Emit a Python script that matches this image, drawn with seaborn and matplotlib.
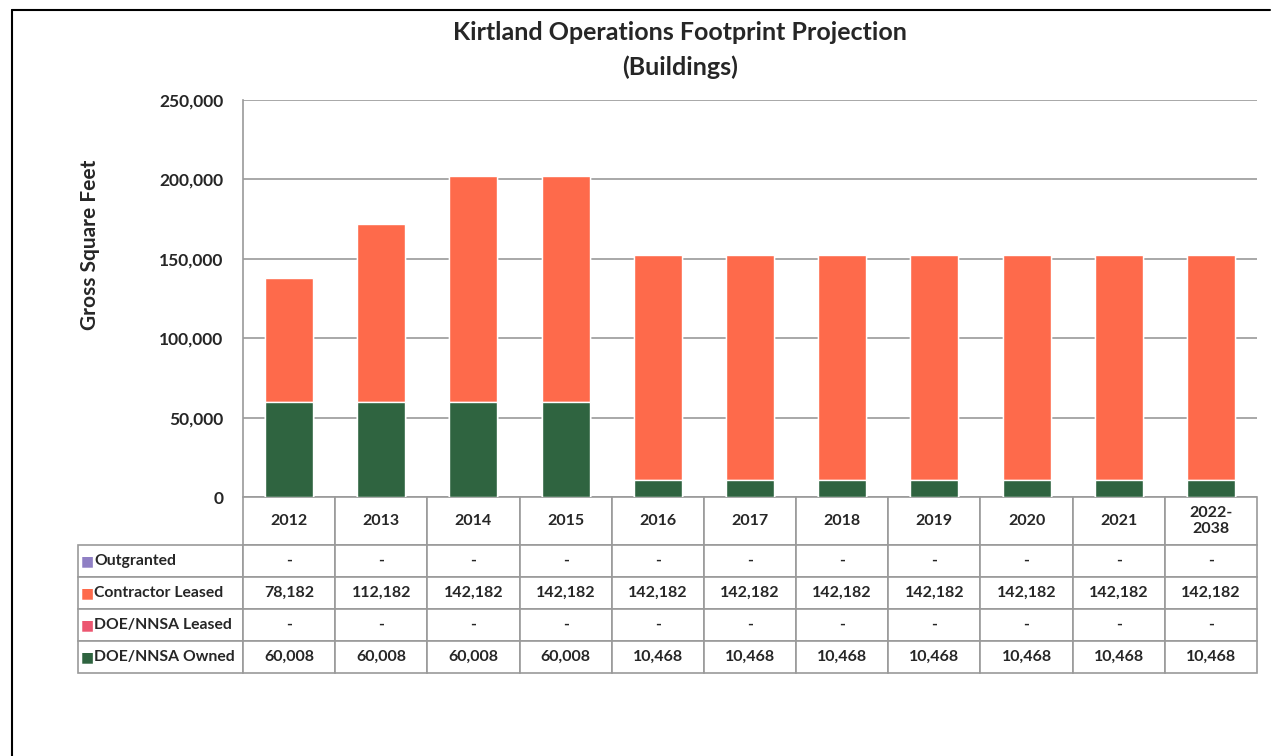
import matplotlib
matplotlib.use("Agg")
import matplotlib.pyplot as plt
import pandas as pd
import seaborn as sns

# values
years = ['2012', '2013', '2014', '2015', '2016', '2017', '2018', '2019', '2020', '2021', '2022-\n2038']
outgranted = [0] * 11
contractor_leased = [78182, 112182, 142182, 142182, 142182, 142182, 142182, 142182, 142182, 142182, 142182]
doe_leased = [0] * 11
doe_owned = [60008, 60008, 60008, 60008, 10468, 10468, 10468, 10468, 10468, 10468, 10468]

series = ['Outgranted', 'Contractor Leased', 'DOE/NNSA Leased', 'DOE/NNSA Owned']
colors = {'Outgranted': '#8f7fc4', 'Contractor Leased': '#fe6a4b',
          'DOE/NNSA Leased': '#ec5670', 'DOE/NNSA Owned': '#2f6440'}

sns.set_style('white')
plt.rcParams['font.family'] = ['Lato', 'DejaVu Sans']
plt.rcParams['font.weight'] = 'bold'

df = pd.DataFrame({'year': years, 'owned': doe_owned, 'dleased': doe_leased,
                   'contractor': contractor_leased, 'out': outgranted})
# stacked: owned at bottom, then doe leased, contractor, outgranted
df['top_dleased'] = df['owned'] + df['dleased']
df['top_contractor'] = df['top_dleased'] + df['contractor']
df['top_out'] = df['top_contractor'] + df['out']

fig = plt.figure(figsize=(12.76, 7.56), dpi=100)
ax = fig.add_axes([243 / 1276, 1 - 497 / 756, 1014 / 1276, 397 / 756])

w = 0.52
sns.barplot(data=df, x='year', y='top_out', color=colors['Outgranted'], width=w, saturation=1, ax=ax)
sns.barplot(data=df, x='year', y='top_contractor', color=colors['Contractor Leased'], width=w, saturation=1, ax=ax)
sns.barplot(data=df, x='year', y='top_dleased', color=colors['DOE/NNSA Leased'], width=w, saturation=1, ax=ax)
sns.barplot(data=df, x='year', y='owned', color=colors['DOE/NNSA Owned'], width=w, saturation=1, ax=ax)

ax.set_xlim(-0.5, len(years) - 0.5)
ax.set_ylim(0, 250000)
ax.set_yticks(range(0, 250001, 50000))
ax.set_yticklabels([f'{v:,}' for v in range(0, 250001, 50000)], fontsize=12.5, fontweight='bold')
ax.yaxis.grid(True, color='#9a9a9a', linewidth=1.2)
ax.set_axisbelow(True)
ax.set_xticks([])
ax.set_xlabel('')
ax.set_ylabel('')
for s in ['top', 'right', 'bottom']:
    ax.spines[s].set_visible(False)
ax.spines['left'].set_color('#9a9a9a')
ax.spines['left'].set_linewidth(1.2)
ax.tick_params(axis='y', length=0, pad=14)

# data table under the plot
def fmt(v):
    return '-' if v == 0 else f'{v:,}'

rows = {'Outgranted': outgranted, 'Contractor Leased': contractor_leased,
        'DOE/NNSA Leased': doe_leased, 'DOE/NNSA Owned': doe_owned}
cell_text = [[''] + years]
for name in series:
    cell_text.append([name] + [fmt(v) for v in rows[name]])

label_w = 165 / 1014
tbl = ax.table(cellText=cell_text, colWidths=[label_w] + [1 / 11] * 11,
               cellLoc='center', bbox=[-label_w, -176 / 397, 1 + label_w, 176 / 397])
tbl.auto_set_font_size(False)
for (r, c), cell in tbl.get_celld().items():
    cell.set_edgecolor('#9a9a9a')
    cell.set_linewidth(1.2)
    cell.set_height(48 if r == 0 else 32)
    cell.get_text().set_fontsize(11.3 if c == 0 else 11.5)
    cell.get_text().set_fontweight('bold')
    if c == 0:
        cell.get_text().set_ha('left')
        cell._loc = 'left'
        cell.PAD = 0.1
    if r == 0 and c == 0:
        cell.visible_edges = ''

# legend keys inside the row label cells
for i, name in enumerate(series):
    yc = -(48 + 32 * i + 16) / 397
    ax.text(-label_w + 3 / 1014, yc, '\u25a0', color=colors[name], fontsize=10,
            va='center', ha='left', transform=ax.transAxes, family=['DejaVu Sans'])

fig.text(680 / 1276, 1 - 33 / 756, 'Kirtland Operations Footprint Projection',
         ha='center', va='center', fontsize=18, fontweight='bold')
fig.text(680 / 1276, 1 - 67 / 756, '(Buildings)',
         ha='center', va='center', fontsize=18, fontweight='bold')
fig.text(90 / 1276, 1 - 245 / 756, 'Gross Square Feet', rotation=90,
         ha='center', va='center', fontsize=15, fontweight='bold')

# page frame
fig.add_artist(plt.Line2D([12 / 1276, 12 / 1276], [0, 1 - 10 / 756], color='black', lw=1.5))
fig.add_artist(plt.Line2D([12 / 1276, 1270 / 1276], [1 - 10 / 756, 1 - 10 / 756], color='black', lw=1.5))

fig.savefig('out.png', dpi=100)
